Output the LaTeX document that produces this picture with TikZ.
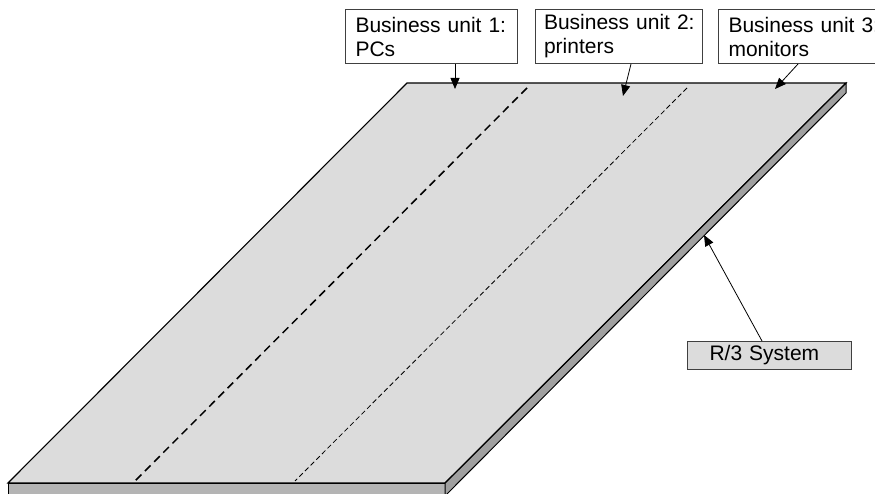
\documentclass[tikz,border=0pt]{standalone}
\usepackage{fontspec}
\setmainfont{Liberation Sans}
\usetikzlibrary{arrows.meta,calc}
\definecolor{topgray}{HTML}{DCDCDC}
\definecolor{frontgray}{HTML}{B4B4B4}
\definecolor{sidegray}{HTML}{A0A0A0}
\definecolor{edgegray}{HTML}{404040}
\tikzset{
  ubox/.style={draw=edgegray, line width=1pt, fill=white, anchor=north west, align=left,
    inner xsep=10pt, inner ysep=3pt, minimum height=54pt,
    font=\fontsize{21}{24}\selectfont},
  rbox/.style={draw=edgegray, line width=1pt, fill=topgray, anchor=north west, align=left,
    inner xsep=22pt, inner ysep=0pt, minimum height=28pt, text width=120pt,
    font=\fontsize{21}{24}\selectfont},
  arr/.style={line width=0.8pt, -{Triangle[length=11pt,width=9pt]}},
  slabedge/.style={line width=1.1pt, draw=black, line join=miter},
  thickdash/.style={line width=1.5pt, dash pattern=on 8pt off 5pt},
  thindash/.style={line width=0.8pt, dash pattern=on 5pt off 3pt}
}
\begin{document}
\begin{tikzpicture}[x=1pt,y=-1pt]
\useasboundingbox (0,0) rectangle (875,494);
\clip (0,0) rectangle (875,494);
\fill[white] (0,0) rectangle (875,494);
% slab
\fill[topgray] (8,483) -- (445,483) -- (846,83) -- (407,83) -- cycle;
\filldraw[fill=frontgray, draw=black, line width=1pt] (8,483) -- (445,483) -- (445,496) -- (8,496) -- cycle;
\filldraw[fill=sidegray, draw=black, line width=1pt] (445,483) -- (846,83) -- (846,93) -- (445,496) -- cycle;
\draw[slabedge] (445,483) -- (8,483) -- (407,83) -- (846,83) -- (445,483);
% dashed separators
\coordinate (d1a) at (527,88);
\coordinate (d1b) at (135,481);
\coordinate (d2a) at (687,88);
\coordinate (d2b) at (295,481);
\draw[thickdash] (d1a) -- (d1b);
\draw[thindash] (d2a) -- (d2b);
% labels
\node[ubox, text width=152pt] (b1) at (345,9) {Business unit 1:\\PCs};
\node[ubox, text width=156pt, inner xsep=5.5pt] (b2) at (535,9) {\hspace*{3pt}Business unit 2:\\\hspace*{3pt}printers};
\node[ubox, text width=160pt] (b3) at (718,9) {Business unit 3:\\monitors};
\node[rbox] (r3) at (687,341) {R/3 System};
% arrow targets
\coordinate (t1) at (455,89);
\coordinate (t2) at (623,96);
\coordinate (t3) at (775,89);
\coordinate (t4) at (704,235);
\draw[arr] ($(b1.south west)+(110,0)$) -- (t1);
\draw[arr] ($(b2.south west)+(96,0)$) -- (t2);
\draw[arr] ($(b3.south west)+(80,0)$) -- (t3);
\draw[arr] ($(r3.north west)+(75,0)$) -- (t4);
\end{tikzpicture}
\end{document}
